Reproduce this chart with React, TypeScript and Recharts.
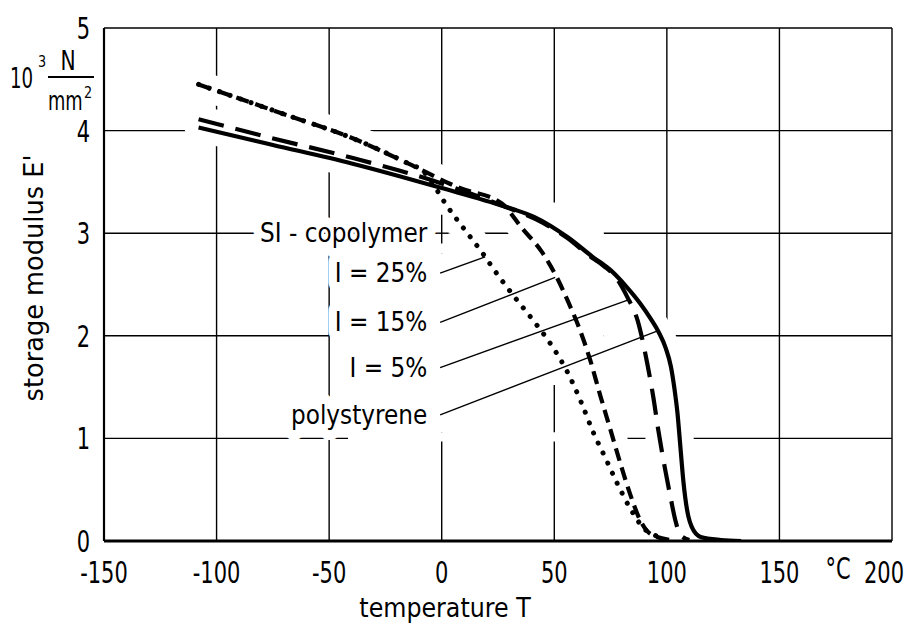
import {
  LineChart,
  Line,
  XAxis,
  YAxis,
  CartesianGrid,
  ReferenceArea,
  ReferenceLine,
  ReferenceDot,
} from "recharts";

const FONT = "'DejaVu Sans', 'Liberation Sans', sans-serif";

const xTicks = [-150, -100, -50, 0, 50, 100, 150, 200];
const yTicks = [0, 1, 2, 3, 4, 5];

// storage modulus E' (10^3 N/mm^2) against temperature T (°C)
const psT = [-108, -75, -40, 0, 28, 41, 56, 67, 75, 82, 88, 93, 96.5, 99.5, 101.8, 103.4, 104.7, 106, 107.3, 109, 111, 115, 124, 133];
const psE = [4.03, 3.86, 3.68, 3.44, 3.26, 3.16, 2.96, 2.77, 2.64, 2.48, 2.32, 2.16, 2.03, 1.88, 1.7, 1.48, 1.25, 0.92, 0.59, 0.3, 0.14, 0.04, 0.01, 0];

const i5T = [-108, -76, -39, -5, 28, 45, 56, 65, 72, 77, 82.4, 87, 91.3, 94, 96.2, 99.3, 101.6, 103.8, 106, 110];
const i5E = [4.11, 3.93, 3.73, 3.52, 3.26, 3.1, 2.95, 2.79, 2.68, 2.58, 2.38, 2.15, 1.73, 1.4, 1.08, 0.69, 0.43, 0.2, 0.06, 0.01];

const i15T = [-108, -70, -39, -15, 8, 26.7, 35.6, 44.4, 51.1, 56.4, 61, 66, 70.4, 75, 79.3, 83.8, 88.2, 92.7, 101.6];
const i15E = [4.45, 4.16, 3.92, 3.68, 3.44, 3.29, 3.05, 2.82, 2.57, 2.32, 2.08, 1.76, 1.42, 1.08, 0.76, 0.45, 0.2, 0.07, 0.01];

const i25T = [-108, -70, -39, -15, -8, -3, 1.6, 10, 18, 25, 33, 41, 49, 56, 62, 67.3, 72.7, 78, 84.2, 90.4, 99];
const i25E = [4.45, 4.16, 3.92, 3.68, 3.6, 3.45, 3.29, 3.04, 2.81, 2.59, 2.36, 2.14, 1.9, 1.64, 1.35, 1.06, 0.81, 0.56, 0.3, 0.11, 0.03];

// annotation texts, with the E level where each leader starts
const labelNames = ["SI - copolymer", "I = 25%", "I = 15%", "I = 5%", "polystyrene"];
const labelE = [3.0, 2.61, 2.13, 1.69, 1.23];
const labelT = -6.4;
const leaderStartT = -0.7;
const leaderEndT = [19.3, 50.4, 82.9, 96.2];
const leaderEndE = [2.77, 2.57, 2.35, 2.05];

const zip = (t: number[], e: number[]) => t.map((v, i) => ({ t: v, e: e[i] }));

const series = [
  { key: "i25", data: zip(i25T, i25E), dash: "0.1 11", width: 5 },
  { key: "i15", data: zip(i15T, i15E), dash: "13 7", width: 4.2 },
  { key: "i5", data: zip(i5T, i5E), dash: "26 12", width: 4.2 },
  { key: "ps", data: zip(psT, psE), dash: undefined, width: 4.2 },
];

// white patches that break the grid behind the annotation block
const gridBreaks = [
  { t1: -47, t2: 46, e1: 1.06, e2: 2.8 },
  { t1: 46, t2: 72, e1: 1.52, e2: 3.3 },
  { t1: 72, t2: 90, e1: 1.93, e2: 2.07 },
  { t1: -41.6, t2: 63.8, e1: 0.97, e2: 1.06 },
  { t1: -4, t2: 3.5, e1: 2.8, e2: 3.35 },
];

type TxtProps = {
  x: number;
  y: number;
  size: number;
  sx: number;
  anchor?: "start" | "middle" | "end";
  rotate?: boolean;
  halo?: boolean;
  children: React.ReactNode;
};

function Txt({ x, y, size, sx, anchor = "start", rotate, halo, children }: TxtProps) {
  const tf = `translate(${x},${y})${rotate ? " rotate(-90)" : ""} scale(${sx},1)`;
  return (
    <text
      transform={tf}
      fontSize={size}
      fontFamily={FONT}
      textAnchor={anchor}
      fill="#000"
      stroke={halo ? "#fff" : "none"}
      strokeWidth={halo ? 20 : 0}
      strokeLinejoin="round"
      paintOrder="stroke"
    >
      {children}
    </text>
  );
}

const XTick = ({ x, y, payload }: any) => {
  const last = payload.value === 200;
  return (
    <g>
      <Txt x={last ? x - 8 : x} y={y + 42} size={30} sx={0.7} anchor="middle">
        {String(payload.value)}
      </Txt>
      {last && (
        <Txt x={x - 54} y={y + 38} size={30} sx={0.7} anchor="middle">
          °C
        </Txt>
      )}
    </g>
  );
};

const YTick = ({ x, y, payload }: any) => (
  <Txt x={x - 14} y={y + 11} size={30} sx={0.7} anchor="end">
    {String(payload.value)}
  </Txt>
);

const YTitle = ({ viewBox }: any) => {
  const { x, y } = viewBox;
  return (
    <g>
      <Txt x={x + 9} y={y + 250} size={27} sx={0.95} anchor="middle" rotate>
        storage modulus E'
      </Txt>
      <Txt x={x - 24} y={y + 60} size={28} sx={0.65}>10</Txt>
      <Txt x={x + 4} y={y + 39} size={16} sx={0.8}>3</Txt>
      <Txt x={x + 34} y={y + 42} size={27} sx={0.75} anchor="middle">N</Txt>
      <line x1={x + 14} x2={x + 60} y1={y + 49} y2={y + 49} stroke="#000" strokeWidth={2} />
      <Txt x={x + 14} y={y + 82} size={27} sx={0.66}>mm</Txt>
      <Txt x={x + 50} y={y + 70} size={16} sx={0.8}>2</Txt>
    </g>
  );
};

const XTitle = ({ viewBox }: any) => (
  <Txt x={viewBox.x + 341} y={viewBox.y + 76} size={27} sx={0.88} anchor="middle">
    temperature T
  </Txt>
);

export default function App() {
  return (
    <div style={{ position: "fixed", left: 8, top: 8, width: 900, height: 617, background: "#fff" }}>
      <LineChart width={900} height={617} margin={{ top: 20, right: 16, bottom: 34, left: 26 }}>
        <CartesianGrid stroke="#000" strokeWidth={1.4} />
        {gridBreaks.map((b, i) => (
          <ReferenceArea
            key={`gap${i}`}
            x1={b.t1}
            x2={b.t2}
            y1={b.e1}
            y2={b.e2}
            fill="#fff"
            fillOpacity={1}
            stroke="none"
            ifOverflow="visible"
            zIndex={50}
          />
        ))}
        {series.map((s) => (
          <Line
            key={`halo-${s.key}`}
            data={s.data}
            dataKey="e"
            type="monotone"
            stroke="#fff"
            strokeWidth={28}
            strokeLinecap="round"
            strokeLinejoin="round"
            dot={false}
            activeDot={false}
            isAnimationActive={false}
            zIndex={350}
          />
        ))}
        {series.map((s) => (
          <Line
            key={s.key}
            data={s.data}
            dataKey="e"
            type="monotone"
            stroke="#000"
            strokeWidth={s.width}
            strokeDasharray={s.dash}
            strokeLinecap={s.dash && s.dash.startsWith("0.1") ? "round" : "butt"}
            strokeLinejoin="round"
            dot={false}
            activeDot={false}
            isAnimationActive={false}
          />
        ))}
        {leaderEndT.map((t, i) => (
          <ReferenceLine
            key={`lead${i}`}
            segment={[
              { x: leaderStartT, y: labelE[i + 1] },
              { x: t, y: leaderEndE[i] },
            ]}
            stroke="#000"
            strokeWidth={1.4}
            ifOverflow="visible"
            zIndex={450}
          />
        ))}
        <ReferenceLine segment={[{ x: -3.6, y: 3 }, { x: 3.1, y: 3 }]} stroke="#000" strokeWidth={1.4} zIndex={450} />
        <ReferenceLine segment={[{ x: 0, y: 2.9 }, { x: 0, y: 3.18 }]} stroke="#000" strokeWidth={1.4} zIndex={450} />
        <XAxis
          dataKey="t"
          type="number"
          domain={[-150, 200]}
          ticks={xTicks}
          allowDataOverflow
          height={50}
          tickSize={0}
          tickMargin={0}
          tickLine={false}
          axisLine={{ stroke: "#000", strokeWidth: 3 }}
          tick={XTick}
          label={{ content: XTitle }}
        />
        <YAxis
          type="number"
          domain={[0, 5]}
          ticks={yTicks}
          allowDataOverflow
          width={70}
          tickSize={0}
          tickMargin={0}
          tickLine={false}
          axisLine={{ stroke: "#000", strokeWidth: 2.2 }}
          tick={YTick}
          label={{ content: YTitle }}
        />
        {labelNames.map((name, i) => (
          <ReferenceDot
            key={name}
            x={labelT}
            y={labelE[i]}
            r={0}
            fill="none"
            stroke="none"
            zIndex={600}
            label={{
              content: (p: any) => (
                <Txt x={p.viewBox.x} y={p.viewBox.y + 9} size={27} sx={0.86} anchor="end" halo>
                  {name}
                </Txt>
              ),
            }}
          />
        ))}
      </LineChart>
    </div>
  );
}
